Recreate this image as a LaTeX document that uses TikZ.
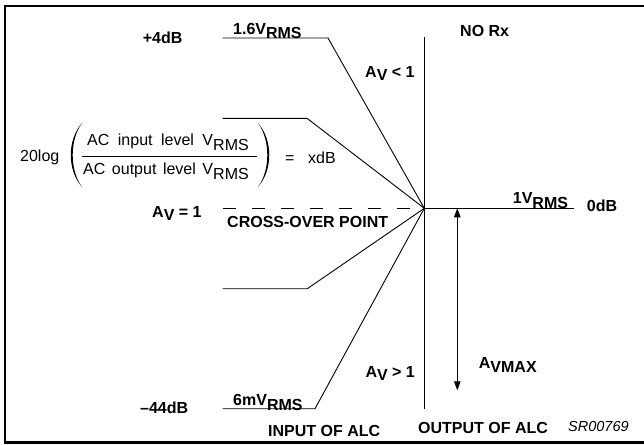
\documentclass[tikz,border=0pt]{standalone}
\usepackage{fontspec}
\setmainfont{Liberation Sans}
\usetikzlibrary{arrows.meta}
\newcommand{\lowr}[2][4.5pt]{\raisebox{-#1}{#2}}
\begin{document}
\begin{tikzpicture}[x=1pt,y=-1pt,
 lbl/.style={inner sep=0pt, anchor=base west, font=\fontsize{16}{19}\selectfont\bfseries},
 frm/.style={inner sep=0pt, anchor=base west, font=\fontsize{16}{19}\selectfont},
 ln/.style={line width=0.9pt, line join=miter},
 paren/.style={fill=black},
 ]
\useasboundingbox (0,0) rectangle (644,444);
% frame
\coordinate (f1) at (660,6);
\coordinate (f2) at (5,6);
\coordinate (f3) at (5,442.5);
\coordinate (f4) at (660,442.5);
\draw[line width=2.2pt] (f1) -- (f2) -- (f3) -- (f4);
% key points
\coordinate (X) at (424.3,208.3);
\coordinate (vtop) at (424.3,36.7);
\coordinate (vbot) at (424.3,408.7);
\coordinate (a0) at (222.7,38); \coordinate (a1) at (328,38);
\coordinate (b0) at (222.7,118.3); \coordinate (b1) at (307,118.3);
\coordinate (c0) at (222.7,288.7); \coordinate (c1) at (307.3,288.7);
\coordinate (d0) at (222.7,408.7); \coordinate (d1) at (315,408.7);
\coordinate (e0) at (222.7,208.3);
\coordinate (r1) at (574.3,208.3);
\coordinate (m0) at (457.3,208.3); \coordinate (m1) at (457.3,390.3);
% lines
\draw[ln] (vtop) -- (vbot);
\draw[ln] (a0) -- (a1) -- (X);
\draw[ln] (b0) -- (b1) -- (X);
\draw[ln] (c0) -- (c1) -- (X);
\draw[ln] (d0) -- (d1) -- (X);
\draw[ln, dash pattern=on 13pt off 16pt] (e0) -- (X);
\draw[ln] (X) -- (r1);
\draw[ln, {Triangle[length=9pt,width=6.5pt]}-{Triangle[length=9pt,width=6.5pt]}] (m0) -- (m1);
% formula
\node[frm] (log) at (20,161.7) {20log};
\fill[paren] (82,123) .. controls (67,140) and (67,170) .. (82,187) .. controls (69.6,170) and (69.6,140) .. cycle;
\fill[paren] (258,123) .. controls (273,140) and (273,170) .. (258,187) .. controls (270.4,170) and (270.4,140) .. cycle;
\coordinate (bar0) at (81.7,156); \coordinate (bar1) at (256.7,156);
\draw[line width=1pt] (bar0) -- (bar1);
\node[frm] (num) at (87,145) {\makebox[126pt][s]{AC input level V}\lowr[5pt]{RMS}};
\node[frm] (den) at (83,174) {\makebox[130pt][s]{AC output level V}\lowr[5.5pt]{RMS}};
\node[frm] (eq) at (285,163.5) {=};
\node[frm] (xdb) at (308,163) {xdB};
% labels
\node[lbl] (p4) at (142.7,43.3) {+4dB};
\node[lbl] (v16) at (233,34.3) {1.6V\lowr[4.7pt]{RMS}};
\node[lbl] (norx) at (460,36.7) {NO Rx};
\node[lbl] (avl) at (365,77) {A\lowr[3.5pt]{V} < 1};
\node[lbl] (av1) at (152,217) {A\lowr[3.5pt]{V} = 1};
\node[lbl] (cross) at (227,227) {CROSS-OVER POINT};
\node[lbl] (v1) at (512.7,203.3) {1V\lowr[5pt]{RMS}};
\node[lbl] (zdb) at (586.7,211.7) {0dB};
\node[lbl] (avmax) at (478.7,368.7) {A\lowr[3.5pt]{VMAX}};
\node[lbl] (avg) at (365.3,377) {A\lowr[3.5pt]{V} > 1};
\node[lbl] (m44) at (140,413.7) {–44dB};
\node[lbl] (v6) at (233,405.3) {6mV\lowr[4.7pt]{RMS}};
\node[lbl] (inp) at (268,436.7) {INPUT OF ALC};
\node[lbl] (outp) at (418,433.3) {OUTPUT OF ALC};
\node[frm, font=\fontsize{14.5}{17}\selectfont\itshape] (sr) at (568,431.7) {SR00769};
\end{tikzpicture}
\end{document}
